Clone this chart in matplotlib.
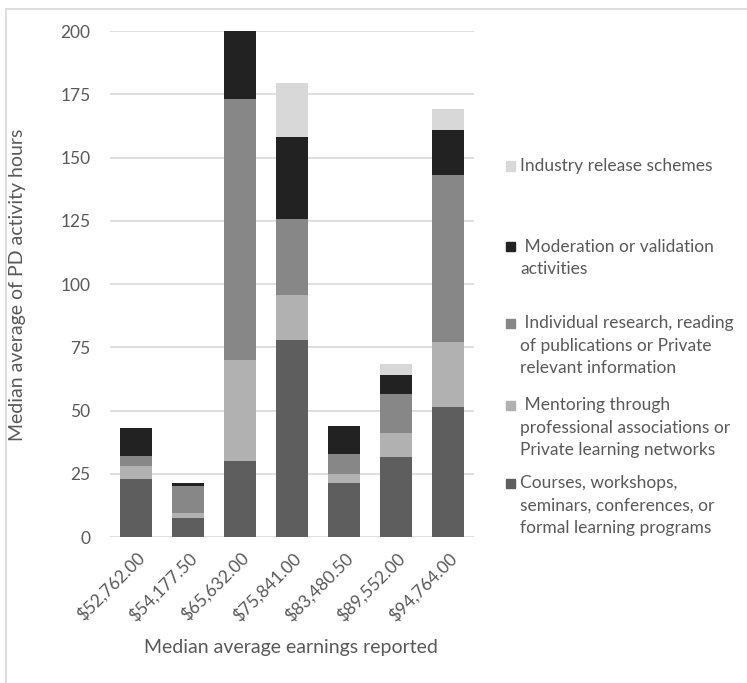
import matplotlib.pyplot as plt
from matplotlib.patches import Rectangle
import numpy as np

plt.rcParams['font.family'] = ['Lato', 'DejaVu Sans']

earnings = ['$52,762.00', '$54,177.50', '$65,632.00', '$75,841.00',
            '$83,480.50', '$89,552.00', '$94,764.00']

courses = [23, 7.5, 30, 78, 21.5, 31.5, 51.5]
mentoring = [5, 2, 40, 17.5, 3.5, 9.5, 25.5]
research = [4, 10.5, 103, 30, 8, 15.5, 66]
moderation = [11, 1.3, 27, 32.5, 11, 7.5, 18]
industry = [0, 0, 0, 21.5, 0, 4.5, 8]

series = [
    ('Courses, workshops,\nseminars, conferences, or\nformal learning programs', courses, '#5e5e5e'),
    (' Mentoring through\nprofessional associations or\nPrivate learning networks', mentoring, '#b1b1b1'),
    (' Individual research, reading\nof publications or Private\nrelevant information', research, '#878787'),
    (' Moderation or validation\nactivities', moderation, '#222222'),
    ('Industry release schemes', industry, '#d8d8d8'),
]

W, H = 747, 683
fig = plt.figure(figsize=(W / 100, H / 100), dpi=100)
ax = fig.add_axes([110 / W, 1 - 537 / H, 364 / W, 506 / H])

grey = '#595959'
x = np.arange(len(earnings))
bottom = np.zeros(len(earnings))
for label, vals, col in series:
    ax.bar(x, vals, 0.62, bottom=bottom, color=col, zorder=3)
    bottom += np.array(vals)

ax.set_xlim(-0.5, len(earnings) - 0.5)
ax.set_ylim(0, 200)
ax.set_yticks(np.arange(0, 201, 25))
ax.yaxis.grid(True, color='#d9d9d9', lw=1.2, zorder=0)
for s in ax.spines.values():
    s.set_visible(False)
ax.tick_params(length=0, colors=grey, labelsize=12.5, pad=14)
ax.tick_params(axis='x', pad=9)
ax.set_xticks(x)
ax.set_xticklabels(earnings, rotation=45, ha='right', rotation_mode='anchor')

fig.text(291 / W, 1 - 648 / H, 'Median average earnings reported',
         ha='center', va='center', color=grey, fontsize=14)
fig.text(18 / W, 1 - 285 / H, 'Median average of PD activity hours',
         ha='center', va='center', rotation=90, color=grey, fontsize=14)

# legend, top entry first, marker beside the first line of each label
marker_y = [483, 405, 323, 247, 166]
for (label, vals, col), my in zip(series, marker_y):
    fig.patches.append(Rectangle((506 / W, 1 - (my + 4.5) / H), 9 / W, 9 / H,
                                 transform=fig.transFigure, color=col))
    fig.text(520 / W, 1 - (my - 8) / H, label, ha='left', va='top',
             color=grey, fontsize=12.5, linespacing=1.5)

# thin chart border
fig.add_artist(plt.Line2D([6 / W, 6 / W], [0, 1 - 9 / H], color='#d9d9d9', lw=1.2))
fig.add_artist(plt.Line2D([6 / W, 1], [1 - 9 / H, 1 - 9 / H], color='#d9d9d9', lw=1.2))

fig.savefig('out.png', dpi=100)
